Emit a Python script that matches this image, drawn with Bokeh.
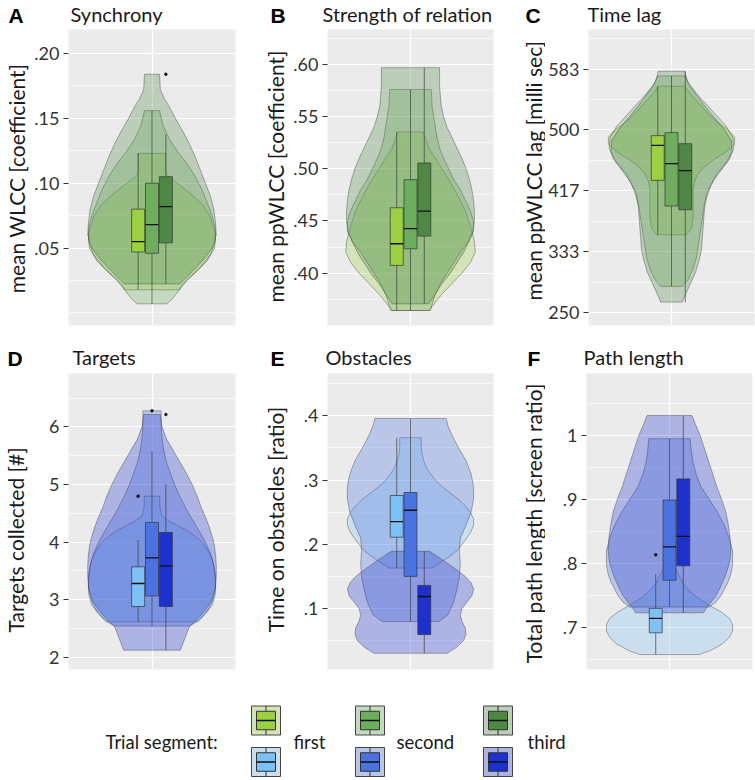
import math
from bokeh.plotting import figure
from bokeh.layouts import column, row
from bokeh.models import Range1d, FixedTicker
from bokeh.core.properties import value
from bokeh.embed import file_html
from bokeh.resources import INLINE

segments = ["first", "second", "third"]
green = ["#9bd140", "#6cae5e", "#4f8745"]
blue = ["#7ec1f6", "#4a72e0", "#1f31cc"]

# ---------------- Panel A : Synchrony ----------------
A_ticks = [0.05, 0.10, 0.15, 0.20]
A_tick_labels = [".05", ".10", ".15", ".20"]
A_minor = [0.0, 0.025, 0.075, 0.125, 0.175]
A_range = (-0.0097, 0.2185)
A_q1 = [0.047, 0.046, 0.054]
A_med = [0.055, 0.068, 0.082]
A_q3 = [0.080, 0.100, 0.105]
A_lo = [0.0178, 0.007, 0.0224]
A_hi = [0.123, 0.156, 0.138]
A_out_seg = [2]
A_out_val = [0.184]
A1y = [0.0178, 0.022, 0.03, 0.04, 0.05, 0.061, 0.074, 0.084, 0.092, 0.10, 0.107, 0.115, 0.123]
A1w = [0.33, 0.36, 0.5, 0.66, 0.75, 0.76, 0.7, 0.6, 0.46, 0.3, 0.17, 0.166, 0.166]
A2y = [0.007, 0.012, 0.018, 0.025, 0.035, 0.045, 0.055, 0.065, 0.075, 0.085, 0.095, 0.105, 0.115, 0.125, 0.135, 0.145, 0.156]
A2w = [0.18, 0.26, 0.33, 0.42, 0.58, 0.7, 0.76, 0.76, 0.72, 0.66, 0.6, 0.52, 0.42, 0.3, 0.2, 0.13, 0.09]
A3y = [0.0224, 0.03, 0.04, 0.05, 0.06, 0.07, 0.08, 0.09, 0.10, 0.11, 0.12, 0.13, 0.14, 0.15, 0.16, 0.165, 0.172, 0.184]
A3w = [0.33, 0.45, 0.6, 0.72, 0.77, 0.76, 0.74, 0.7, 0.64, 0.58, 0.52, 0.45, 0.37, 0.28, 0.2, 0.15, 0.1, 0.09]

# ---------------- Panel B : Strength of relation ----------------
B_ticks = [0.40, 0.45, 0.50, 0.55, 0.60]
B_tick_labels = [".40", ".45", ".50", ".55", ".60"]
B_minor = [0.375, 0.425, 0.475, 0.525, 0.575, 0.625]
B_range = (0.3498, 0.6336)
B_q1 = [0.4074, 0.4234, 0.4355]
B_med = [0.4282, 0.4426, 0.4595]
B_q3 = [0.4627, 0.4896, 0.5056]
B_lo = [0.3642, 0.3642, 0.3706]
B_hi = [0.5354, 0.576, 0.597]
B_out_seg = []
B_out_val = []
B1y = [0.3642, 0.37, 0.38, 0.39, 0.40, 0.41, 0.42, 0.43, 0.44, 0.45, 0.46, 0.47, 0.48, 0.49, 0.50, 0.51, 0.52, 0.5354]
B1w = [0.22, 0.28, 0.38, 0.5, 0.62, 0.72, 0.78, 0.77, 0.74, 0.7, 0.66, 0.6, 0.53, 0.46, 0.38, 0.3, 0.22, 0.15]
B2y = [0.3642, 0.37, 0.38, 0.39, 0.40, 0.41, 0.42, 0.43, 0.44, 0.45, 0.46, 0.47, 0.48, 0.49, 0.50, 0.51, 0.52, 0.53, 0.54, 0.55, 0.56, 0.576]
B2w = [0.24, 0.26, 0.3, 0.36, 0.44, 0.52, 0.6, 0.7, 0.76, 0.76, 0.72, 0.66, 0.6, 0.52, 0.46, 0.4, 0.35, 0.32, 0.3, 0.28, 0.26, 0.25]
B3y = [0.3706, 0.38, 0.39, 0.40, 0.41, 0.42, 0.43, 0.44, 0.45, 0.46, 0.47, 0.48, 0.49, 0.50, 0.51, 0.52, 0.53, 0.54, 0.55, 0.56, 0.57, 0.58, 0.597]
B3w = [0.22, 0.3, 0.38, 0.48, 0.56, 0.64, 0.7, 0.75, 0.77, 0.77, 0.76, 0.74, 0.71, 0.67, 0.62, 0.56, 0.5, 0.44, 0.4, 0.37, 0.36, 0.35, 0.35]

# ---------------- Panel C : Time lag ----------------
C_ticks = [250, 333.3, 416.7, 500, 583.3]
C_tick_labels = ["250", "333", "417", "500", "583"]
C_minor = [291.7, 375, 458.3, 541.7, 625]
C_range = (232.2, 637.4)
C_q1 = [430.9, 395.7, 390.7]
C_med = [478.9, 453.7, 444.1]
C_q3 = [492.1, 496.2, 481.1]
C_lo = [356.4, 285.6, 264.2]
C_hi = [559.7, 573.9, 580.3]
C_out_seg = []
C_out_val = []
C1y = [356.4, 365, 380, 400, 420, 430, 440, 450, 460, 470, 480, 490, 500, 510, 520, 530, 540, 550, 559.7]
C1w = [0.18, 0.24, 0.26, 0.26, 0.26, 0.28, 0.32, 0.4, 0.52, 0.66, 0.76, 0.76, 0.68, 0.56, 0.46, 0.38, 0.3, 0.22, 0.16]
C2y = [285.6, 295, 310, 325, 340, 355, 370, 385, 400, 415, 430, 445, 460, 475, 490, 505, 520, 535, 550, 565, 573.9]
C2w = [0.13, 0.2, 0.26, 0.3, 0.32, 0.34, 0.36, 0.38, 0.4, 0.43, 0.5, 0.6, 0.7, 0.75, 0.74, 0.66, 0.54, 0.42, 0.3, 0.2, 0.17]
C3y = [264.2, 275, 290, 305, 320, 335, 350, 365, 380, 395, 410, 425, 440, 455, 470, 485, 500, 515, 530, 545, 560, 570, 580.3]
C3w = [0.13, 0.17, 0.23, 0.29, 0.33, 0.36, 0.37, 0.38, 0.39, 0.4, 0.43, 0.48, 0.55, 0.66, 0.73, 0.72, 0.64, 0.53, 0.42, 0.32, 0.22, 0.18, 0.16]

# ---------------- Panel D : Targets ----------------
D_ticks = [2, 3, 4, 5, 6]
D_tick_labels = ["2", "3", "4", "5", "6"]
D_minor = [2.5, 3.5, 4.5, 5.5, 6.5]
D_range = (1.786, 6.926)
D_q1 = [2.88, 3.065, 2.88]
D_med = [3.279, 3.725, 3.586]
D_q3 = [3.569, 4.339, 4.165]
D_lo = [2.614, 2.54, 2.122]
D_hi = [4.032, 5.577, 5.0]
D_out_seg = [0, 1, 2]
D_out_val = [4.796, 6.278, 6.214]
D1y = [2.614, 2.75, 2.9, 3.1, 3.3, 3.5, 3.7, 3.8, 3.9, 4.0, 4.1, 4.2, 4.35, 4.45, 4.6, 4.796]
D1w = [0.55, 0.64, 0.72, 0.76, 0.76, 0.75, 0.72, 0.69, 0.65, 0.6, 0.52, 0.42, 0.22, 0.12, 0.095, 0.092]
D2y = [2.54, 2.6, 2.7, 2.8, 2.9, 3.0, 3.2, 3.4, 3.6, 3.8, 4.0, 4.2, 4.4, 4.6, 4.8, 5.0, 5.2, 5.4, 5.6, 5.8, 6.0, 6.278]
D2w = [0.45, 0.52, 0.6, 0.66, 0.7, 0.73, 0.76, 0.76, 0.74, 0.7, 0.64, 0.56, 0.48, 0.4, 0.33, 0.27, 0.22, 0.17, 0.14, 0.12, 0.11, 0.11]
D3y = [2.122, 2.54, 2.6, 2.7, 2.8, 2.9, 3.0, 3.2, 3.4, 3.6, 3.8, 4.0, 4.2, 4.4, 4.6, 4.8, 5.0, 5.2, 5.4, 5.6, 5.8, 6.0, 6.214]
D3w = [0.34, 0.45, 0.5, 0.57, 0.63, 0.68, 0.72, 0.76, 0.77, 0.77, 0.76, 0.74, 0.7, 0.65, 0.59, 0.54, 0.48, 0.41, 0.33, 0.25, 0.17, 0.12, 0.1]

# ---------------- Panel E : Obstacles ----------------
E_ticks = [0.1, 0.2, 0.3, 0.4]
E_tick_labels = [".1", ".2", ".3", ".4"]
E_minor = [0.05, 0.15, 0.25, 0.35, 0.45]
E_range = (0.005, 0.466)
E_q1 = [0.211, 0.150, 0.0594]
E_med = [0.2354, 0.253, 0.1187]
E_q3 = [0.276, 0.2807, 0.136]
E_lo = [0.163, 0.0797, 0.0302]
E_hi = [0.366, 0.396, 0.189]
E_out_seg = []
E_out_val = []
E1y = [0.163, 0.17, 0.18, 0.19, 0.20, 0.21, 0.22, 0.23, 0.24, 0.25, 0.26, 0.27, 0.28, 0.29, 0.30, 0.31, 0.32, 0.33, 0.34, 0.35, 0.366]
E1w = [0.26, 0.34, 0.46, 0.56, 0.62, 0.68, 0.73, 0.76, 0.76, 0.72, 0.66, 0.58, 0.48, 0.38, 0.3, 0.24, 0.19, 0.16, 0.14, 0.13, 0.13]
E2y = [0.0797, 0.09, 0.11, 0.13, 0.15, 0.17, 0.19, 0.21, 0.23, 0.25, 0.27, 0.29, 0.31, 0.33, 0.35, 0.37, 0.385, 0.396]
E2w = [0.34, 0.45, 0.52, 0.56, 0.59, 0.6, 0.59, 0.6, 0.67, 0.73, 0.76, 0.76, 0.73, 0.67, 0.58, 0.5, 0.45, 0.43]
E3y = [0.0302, 0.04, 0.05, 0.06, 0.07, 0.08, 0.09, 0.10, 0.11, 0.12, 0.13, 0.14, 0.15, 0.16, 0.17, 0.18, 0.189]
E3w = [0.44, 0.56, 0.64, 0.67, 0.66, 0.62, 0.6, 0.62, 0.68, 0.74, 0.76, 0.73, 0.66, 0.56, 0.45, 0.34, 0.23]

# ---------------- Panel F : Path length ----------------
F_ticks = [0.7, 0.8, 0.9, 1.0]
F_tick_labels = [".7", ".8", ".9", "1"]
F_minor = [0.65, 0.75, 0.85, 0.95, 1.05]
F_range = (0.635, 1.0965)
F_q1 = [0.6922, 0.7741, 0.7966]
F_med = [0.7147, 0.8263, 0.8425]
F_q3 = [0.7303, 0.8993, 0.9322]
F_lo = [0.6583, 0.7324, 0.7235]
F_hi = [0.7835, 0.9948, 1.031]
F_out_seg = [0]
F_out_val = [0.8138]
F1y = [0.6583, 0.665, 0.675, 0.685, 0.695, 0.705, 0.715, 0.725, 0.735, 0.745, 0.755, 0.77, 0.79, 0.8138]
F1w = [0.36, 0.5, 0.64, 0.72, 0.76, 0.76, 0.72, 0.62, 0.48, 0.36, 0.26, 0.16, 0.08, 0.03]
F2y = [0.7324, 0.74, 0.75, 0.76, 0.77, 0.78, 0.79, 0.80, 0.82, 0.84, 0.86, 0.88, 0.90, 0.92, 0.94, 0.96, 0.98, 0.9948]
F2w = [0.48, 0.56, 0.62, 0.66, 0.7, 0.73, 0.75, 0.76, 0.76, 0.72, 0.66, 0.58, 0.48, 0.38, 0.32, 0.28, 0.26, 0.25]
F3y = [0.7235, 0.73, 0.74, 0.75, 0.76, 0.78, 0.80, 0.82, 0.84, 0.86, 0.88, 0.90, 0.92, 0.94, 0.96, 0.98, 1.0, 1.015, 1.031]
F3w = [0.41, 0.44, 0.5, 0.56, 0.6, 0.67, 0.72, 0.74, 0.73, 0.71, 0.68, 0.63, 0.57, 0.52, 0.47, 0.42, 0.37, 0.32, 0.27]

# ---------------- layout / style constants (pixels) ----------------
W = 755
COLS = [(30, 38, 167, 24), (30, 38, 166, 16), (36, 41, 166, 3)]  # gutter, left border, frame, right border
FRAME_H = 296
ROW_TOP = [29, 373]
ROW_BOTTOM_BORDER = [10, 8]
HEAD_H = [29, 38]
LETTER_X = [[8, 270, 525], [7, 270, 527]]
TITLE_X = [[70, 322, 587], [72, 325, 583]]
LETTER_MID = [15, 23]
TITLE_MID = [13.5, 21.5]
YLAB_X = [[15.5, 15.5, 23.5], [14.5, 15.5, 23.5]]
YLAB_CY = [[183, 181, 175], [544, 523, 527]]
DODGE = 0.166
BW = 0.156
FONT = "Lato"


def blank(width, height):
    f = figure(width=width, height=height, x_range=Range1d(0, width), y_range=Range1d(height, 0),
               output_backend="svg", toolbar_location=None, min_border=0,
               outline_line_color=None, background_fill_color="white", border_fill_color="white")
    f.axis.visible = False
    f.grid.visible = False
    return f


def make_panel(yrange, ticks, tick_labels, minor, vys, vws, q1, med, q3, lo, hi,
               out_seg, out_val, colors, col, r):
    g, bl, fw, br = COLS[col]
    p = figure(frame_width=fw, frame_height=FRAME_H,
               x_range=Range1d(-1, 1), y_range=Range1d(*yrange),
               output_backend="svg", toolbar_location=None,
               min_border_left=bl, min_border_right=br,
               min_border_top=0, min_border_bottom=ROW_BOTTOM_BORDER[r],
               background_fill_color="#ebebeb", border_fill_color="white",
               outline_line_color=None)
    p.xaxis.visible = False
    p.xgrid.ticker = FixedTicker(ticks=[0])
    p.xgrid.grid_line_color = "white"
    p.xgrid.grid_line_width = 1.2
    p.ygrid.ticker = FixedTicker(ticks=ticks, minor_ticks=minor)
    p.ygrid.grid_line_color = "white"
    p.ygrid.grid_line_width = 1.2
    p.ygrid.minor_grid_line_color = "white"
    p.ygrid.minor_grid_line_width = 0.6

    ax = p.yaxis[0]
    ax.ticker = FixedTicker(ticks=ticks)
    ax.major_label_overrides = {t: l for t, l in zip(ticks, tick_labels)}
    ax.major_label_text_font = FONT
    ax.major_label_text_font_size = "18px"
    ax.major_label_text_color = "#333333"
    ax.major_label_standoff = 4
    ax.axis_line_color = None
    ax.major_tick_line_color = "#333333"
    ax.major_tick_out = 5
    ax.major_tick_in = 0
    ax.minor_tick_line_color = None

    for i in range(3):
        ys = list(vys[i]) + list(vys[i])[::-1]
        xs = list(vws[i]) + [-w for w in list(vws[i])[::-1]]
        p.patch(xs, ys, fill_color=colors[i], fill_alpha=0.3,
                line_color="#333333", line_alpha=0.55, line_width=0.7)

    xpos = [(i - 1) * DODGE for i in range(3)]
    p.segment(x0=xpos, y0=lo, x1=xpos, y1=q1, line_color="#333333", line_alpha=0.8, line_width=0.8)
    p.segment(x0=xpos, y0=q3, x1=xpos, y1=hi, line_color="#333333", line_alpha=0.8, line_width=0.8)
    p.quad(left=[x - BW / 2 for x in xpos], right=[x + BW / 2 for x in xpos],
           bottom=q1, top=q3, fill_color=colors, line_color="#333333", line_width=0.7)
    p.segment(x0=[x - BW / 2 for x in xpos], y0=med, x1=[x + BW / 2 for x in xpos], y1=med,
              line_color="#111111", line_width=1.3)
    if out_val:
        p.scatter(x=[xpos[s] for s in out_seg], y=out_val, size=2.5, color="#111111")
    return p


def gutter(label, col, r):
    g = COLS[col][0]
    h = FRAME_H + ROW_BOTTOM_BORDER[r]
    f = blank(g, h)
    f.text(x=[YLAB_X[r][col]], y=[YLAB_CY[r][col] - ROW_TOP[r]], text=[label], angle=math.pi / 2,
           text_align="center", text_baseline="middle", text_font=value(FONT),
           text_font_size=value("21px"), text_color="#1a1a1a")
    return f


def header(r, letters, titles):
    f = blank(W, HEAD_H[r])
    f.text(x=LETTER_X[r], y=[LETTER_MID[r]] * 3, text=letters, text_font=value("Liberation Sans"),
           text_font_style="bold", text_font_size=value("21px"), text_baseline="middle",
           text_color="black")
    f.text(x=TITLE_X[r], y=[TITLE_MID[r]] * 3, text=titles, text_font=value(FONT),
           text_font_size=value("20px"), text_baseline="middle", text_color="#1a1a1a")
    return f


pA = make_panel(A_range, A_ticks, A_tick_labels, A_minor, [A1y, A2y, A3y], [A1w, A2w, A3w],
                A_q1, A_med, A_q3, A_lo, A_hi, A_out_seg, A_out_val, green, 0, 0)
pB = make_panel(B_range, B_ticks, B_tick_labels, B_minor, [B1y, B2y, B3y], [B1w, B2w, B3w],
                B_q1, B_med, B_q3, B_lo, B_hi, B_out_seg, B_out_val, green, 1, 0)
pC = make_panel(C_range, C_ticks, C_tick_labels, C_minor, [C1y, C2y, C3y], [C1w, C2w, C3w],
                C_q1, C_med, C_q3, C_lo, C_hi, C_out_seg, C_out_val, green, 2, 0)
pD = make_panel(D_range, D_ticks, D_tick_labels, D_minor, [D1y, D2y, D3y], [D1w, D2w, D3w],
                D_q1, D_med, D_q3, D_lo, D_hi, D_out_seg, D_out_val, blue, 0, 1)
pE = make_panel(E_range, E_ticks, E_tick_labels, E_minor, [E1y, E2y, E3y], [E1w, E2w, E3w],
                E_q1, E_med, E_q3, E_lo, E_hi, E_out_seg, E_out_val, blue, 1, 1)
pF = make_panel(F_range, F_ticks, F_tick_labels, F_minor, [F1y, F2y, F3y], [F1w, F2w, F3w],
                F_q1, F_med, F_q3, F_lo, F_hi, F_out_seg, F_out_val, blue, 2, 1)

top_labels = ["mean WLCC [coefficient]", "mean ppWLCC [coefficient]", "mean ppWLCC lag [milli sec]"]
bot_labels = ["Targets collected [#]", "Time on obstacles [ratio]", "Total path length [screen ratio]"]

row1 = row(gutter(top_labels[0], 0, 0), pA, gutter(top_labels[1], 1, 0), pB, gutter(top_labels[2], 2, 0), pC)
row2 = row(gutter(bot_labels[0], 0, 1), pD, gutter(bot_labels[1], 1, 1), pE, gutter(bot_labels[2], 2, 1), pF)
head1 = header(0, ["A", "B", "C"], ["Synchrony", "Strength of relation", "Time lag"])
head2 = header(1, ["D", "E", "F"], ["Targets", "Obstacles", "Path length"])

# ---------------- legend strip ----------------
LH = 102
leg = blank(W, LH)
icon_x = [265.5, 369.5, 497.5]
label_x = [293, 396, 527]
row_y = [43, 84.5]
SQ = 29
for r, pal in enumerate([green, blue]):
    cy = row_y[r]
    leg.rect(x=icon_x, y=[cy] * 3, width=SQ, height=SQ, fill_color="#ebebeb", line_color=None)
    leg.rect(x=icon_x, y=[cy] * 3, width=SQ, height=SQ, fill_color=pal, fill_alpha=0.3,
             line_color="#444444", line_width=1)
    leg.segment(x0=icon_x, y0=[cy - SQ / 2] * 3, x1=icon_x, y1=[cy + SQ / 2] * 3,
                line_color="#333333", line_width=1)
    leg.rect(x=icon_x, y=[cy] * 3, width=19, height=18.5, fill_color=pal,
             line_color="#333333", line_width=1)
    leg.segment(x0=[x - 9.5 for x in icon_x], y0=[cy] * 3, x1=[x + 9.5 for x in icon_x], y1=[cy] * 3,
                line_color="#111111", line_width=1.3)

leg.text(x=[105], y=[64], text=["Trial segment:"], text_font=value(FONT),
         text_font_size=value("18.5px"), text_baseline="middle", text_color="#1a1a1a")
leg.text(x=label_x, y=[64] * 3, text=segments, text_font=value(FONT),
         text_font_size=value("18.5px"), text_baseline="middle", text_color="#1a1a1a")

layout = column(head1, row1, head2, row2, leg)
open("out.html", "w").write(file_html(layout, INLINE))
